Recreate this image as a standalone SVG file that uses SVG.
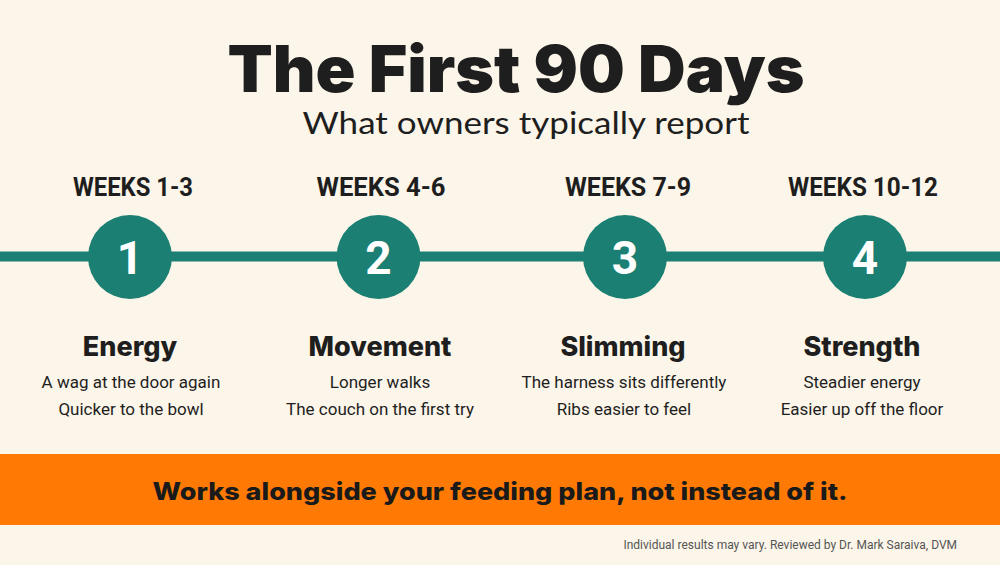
<svg xmlns="http://www.w3.org/2000/svg" width="1000" height="565" viewBox="0 0 1000 565">
<style>
.title{font-family:Inter,"Noto Sans",sans-serif;font-weight:900;font-size:64px;fill:#1e1e1e;text-anchor:middle}
.sub{font-family:Lato,"Noto Sans",sans-serif;font-weight:400;font-size:30px;fill:#1e1e1e;text-anchor:middle}
.wk{font-family:Roboto,"Liberation Sans",sans-serif;font-weight:700;font-size:25px;fill:#1e1e1e;text-anchor:middle}
.num{font-family:Roboto,"Liberation Sans",sans-serif;font-weight:700;font-size:46px;fill:#ffffff;text-anchor:middle}
.head{font-family:Inter,"Noto Sans",sans-serif;font-weight:800;font-size:27px;fill:#1e1e1e;text-anchor:middle}
.body{font-family:Roboto,"Liberation Sans",sans-serif;font-weight:400;font-size:17px;fill:#1e1e1e;text-anchor:middle}
.band{font-family:Inter,"Noto Sans",sans-serif;font-weight:800;font-size:24px;fill:#1a1a1a;text-anchor:middle}
.foot{font-family:Roboto,"Liberation Sans",sans-serif;font-size:12px;fill:#555;text-anchor:end}
.dot{fill:#1b7f73}
</style>
<rect width="1000" height="565" fill="#fcf5e9"/>
<g id="title">
<text class="title" x="516" y="92" textLength="577" lengthAdjust="spacingAndGlyphs">The First 90 Days</text>
<text class="sub" x="526" y="134" textLength="447" lengthAdjust="spacingAndGlyphs">What owners typically report</text>
</g>
<g id="connectors">
<line x1="0" y1="256.5" x2="1000" y2="256.5" stroke="#1b7f73" stroke-width="10"/>
</g>
<g id="step1">
<text class="wk" x="133" y="196" textLength="120" lengthAdjust="spacingAndGlyphs">WEEKS 1-3</text>
<circle class="dot" cx="130" cy="257" r="42"/>
<text class="num" x="130" y="274">1</text>
<text class="head" x="130" y="356">Energy</text>
<text class="body" x="131" y="388">A wag at the door again</text>
<text class="body" x="131" y="415">Quicker to the bowl</text>
</g>
<g id="step2">
<text class="wk" x="381" y="196" textLength="129" lengthAdjust="spacingAndGlyphs">WEEKS 4-6</text>
<circle class="dot" cx="378.5" cy="257" r="42"/>
<text class="num" x="378.5" y="274">2</text>
<text class="head" x="380" y="356">Movement</text>
<text class="body" x="380" y="388">Longer walks</text>
<text class="body" x="380" y="415">The couch on the first try</text>
</g>
<g id="step3">
<text class="wk" x="628" y="196" textLength="126" lengthAdjust="spacingAndGlyphs">WEEKS 7-9</text>
<circle class="dot" cx="625" cy="257" r="42"/>
<text class="num" x="625" y="274">3</text>
<text class="head" x="623" y="356">Slimming</text>
<text class="body" x="624" y="388">The harness sits differently</text>
<text class="body" x="624" y="415">Ribs easier to feel</text>
</g>
<g id="step4">
<text class="wk" x="863" y="196" textLength="150" lengthAdjust="spacingAndGlyphs">WEEKS 10-12</text>
<circle class="dot" cx="865" cy="257" r="42"/>
<text class="num" x="865" y="274">4</text>
<text class="head" x="862" y="356">Strength</text>
<text class="body" x="862" y="388">Steadier energy</text>
<text class="body" x="862" y="415">Easier up off the floor</text>
</g>
<g id="banner">
<rect x="0" y="454" width="1000" height="71" fill="#ff7a05"/>
<text class="band" x="500" y="500" textLength="695" lengthAdjust="spacingAndGlyphs">Works alongside your feeding plan, not instead of it.</text>
</g>
<g id="footer">
<text class="foot" x="957" y="549">Individual results may vary. Reviewed by Dr. Mark Saraiva, DVM</text>
</g>
</svg>
